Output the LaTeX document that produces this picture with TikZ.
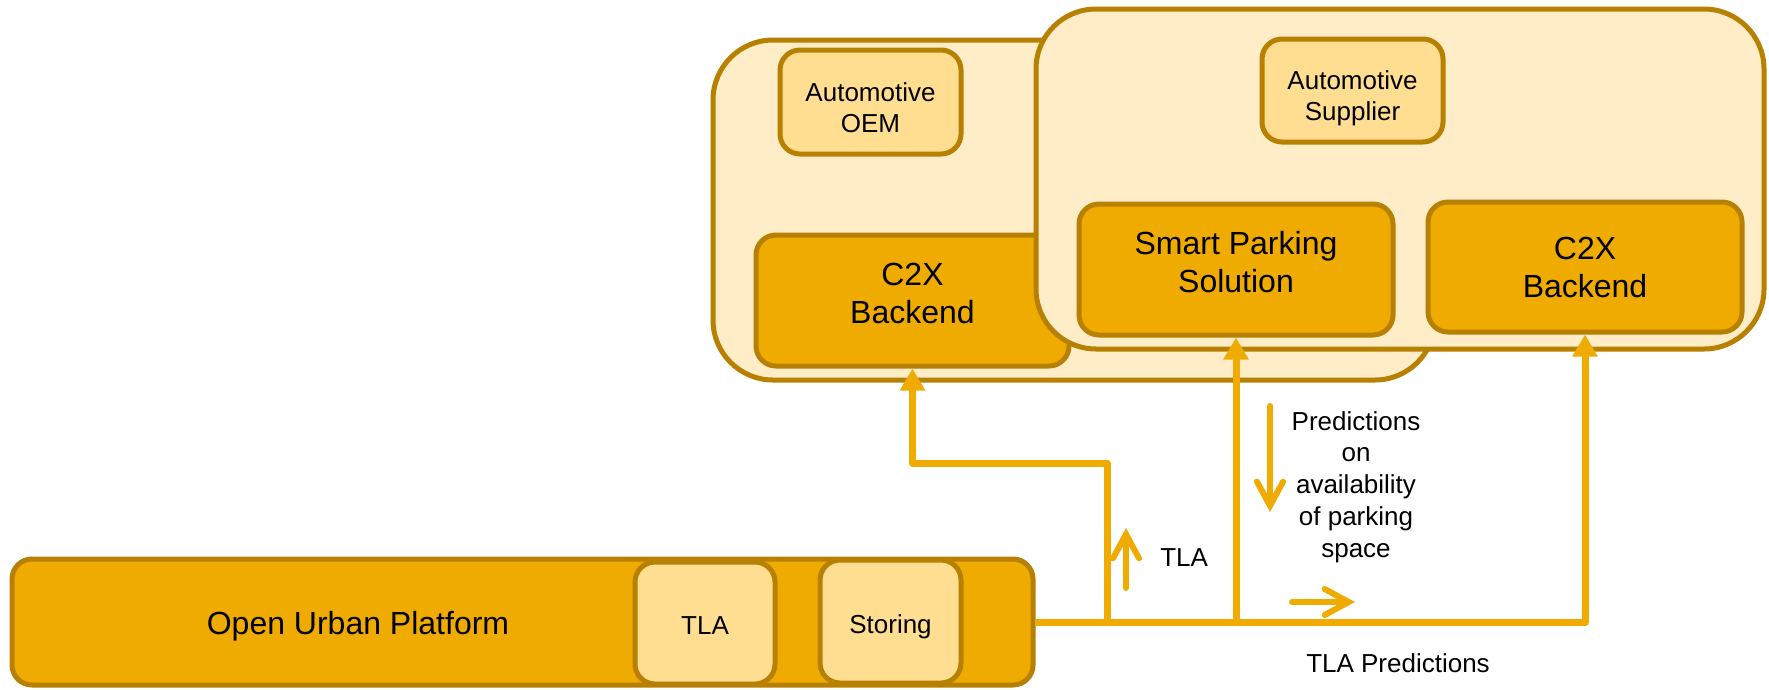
\documentclass[tikz,border=0pt]{standalone}
\usepackage{fontspec}
\setmainfont{Liberation Sans}
\usetikzlibrary{arrows.meta}
\definecolor{edge}{RGB}{184,128,0}
\definecolor{cream}{RGB}{254,237,199}
\definecolor{pale}{RGB}{255,222,145}
\definecolor{amber}{RGB}{240,171,0}

\begin{document}
\begin{tikzpicture}[x=0.75pt,y=-0.75pt,
  box/.style={draw=edge, line width=3.75pt, rounded corners=15pt, inner sep=0pt,
              align=center, text=black},
  group/.style={box, fill=cream, rounded corners=45pt},
  light/.style={box, fill=pale, font=\fontsize{19.5}{23.3}\selectfont},
  main/.style={box, fill=amber, font=\fontsize{24}{28.5}\selectfont},
  small/.style={font=\fontsize{19.5}{23.3}\selectfont, align=center, inner sep=0pt, text=black},
  big/.style={font=\fontsize{24}{28.5}\selectfont, align=center, inner sep=0pt, text=black},
  flow/.style={draw=amber, line width=5.25pt, line join=round},
  feed/.style={flow, -{Triangle[length=16.5pt,width=18pt]}},
  hint/.style={draw=amber, line width=4.5pt, line cap=round,
               -{Straight Barb[length=18pt,width=19.5pt,line cap=round]}},
  note/.style={small, font=\fontsize{19.5}{23.8}\selectfont}]

\useasboundingbox (0,0) rectangle (1769,689);

% automotive OEM group
\node[group, minimum width=541.5pt, minimum height=255pt] (oem) at (1074,210) {};
\node[light, minimum width=135.75pt, minimum height=78pt] (oemName) at (870.5,102) {};
\node[small] (oemText) at (870.5,108) {Automotive\\OEM};
\node[main, minimum width=234.75pt, minimum height=98.25pt] (c2xL) at (912.5,300.5) {};
\node[big] (c2xLText) at (912.5,293.5) {C2X\\Backend};

% automotive supplier group
\node[group, minimum width=546pt, minimum height=255pt] (sup) at (1400,179) {};
\node[light, minimum width=135.75pt, minimum height=77.25pt] (supName) at (1352.5,90.5) {};
\node[small] (supText) at (1352.5,98.5) {Automotive\\Supplier};
\node[main, minimum width=235.5pt, minimum height=98.25pt] (sps) at (1236,269.5) {};
\node[big] (spsText) at (1236,262.5) {Smart Parking\\Solution};
\node[main, minimum width=235.5pt, minimum height=97.5pt] (c2xR) at (1585,267) {C2X\\Backend};

% open urban platform
\node[box, fill=amber, minimum width=765.75pt, minimum height=94.5pt] (oup) at (522.5,622) {};
\node[big] (oupName) at (358,626) {Open Urban Platform};
\node[light, minimum width=105pt, minimum height=91.5pt] (tla) at (705,623) {};
\node[small] (tlaText) at (705,626) {TLA};
\node[light, minimum width=105.75pt, minimum height=92.25pt] (store) at (890.5,621.5) {};
\node[small] (storeText) at (890.5,627) {Storing};

% data flows
\coordinate (split) at (1107,622);
\coordinate (bend) at (1107,463);
\draw[feed] (oup.east) -| (c2xR.south);
\draw[feed] (sps.south |- oup.east) -- (sps.south);
\draw[feed] (split) -- (bend) -| (c2xL.south);

% direction hints
\coordinate (tlaFrom) at (1126,588);
\coordinate (tlaTo) at (1126,528);
\coordinate (predFrom) at (1270,406);
\coordinate (predTo) at (1270,512);
\coordinate (outFrom) at (1292,602);
\coordinate (outTo) at (1355,602);
\draw[hint] (tlaFrom) -- (tlaTo);
\draw[hint] (predFrom) -- (predTo);
\draw[hint] (outFrom) -- (outTo);

\node[note, anchor=west] (tlaNote) at (1160,558) {TLA};
\node[note] (predNote) at (1356,487) {Predictions\\on\\availability\\of parking\\space};
\node[note] (outNote) at (1398,663) {TLA Predictions};
\end{tikzpicture}
\end{document}
